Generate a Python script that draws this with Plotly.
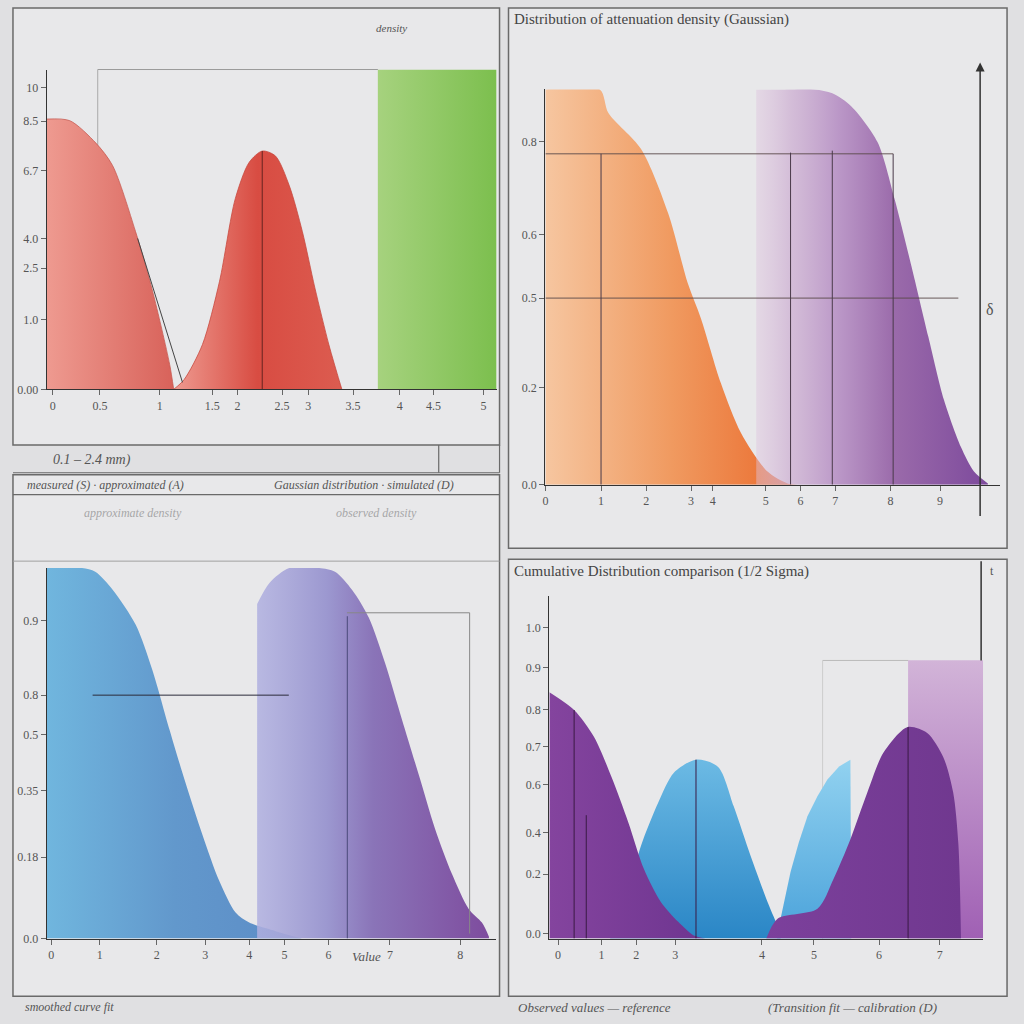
import plotly.graph_objects as go

# ---------------- data ----------------
# Panel 1 (top-left)
p1_red_a_x = [0, 5.1, 10.9, 14.6, 19.7, 23.5, 27.3, 28.2]
p1_red_a_y = [84.5, 84, 77, 70, 49.4, 30.7, 7.8, 0]
p1_red_b_x = [28.2, 30.5, 34.6, 38.4, 41.9, 45, 47.9, 50.8, 53.9, 56.8, 59.6, 62.7, 65, 65.6]
p1_red_b_y = [0, 3, 14, 33.8, 59.6, 71, 74.5, 73, 63.7, 49.4, 31.7, 14, 2.8, 0]
p1_green_x = [73.6, 100]
p1_green_y = [100, 100]
p1_peak_line_x = [47.9, 47.9]
p1_peak_line_y = [0, 74.5]
p1_ytick_vals = [0, 21.7, 37.9, 47.2, 68.3, 83.9, 94.4]
p1_ytick_text = ["0.00", "1.0", "2.5", "4.0", "6.7", "8.5", "10"]
p1_xtick_vals = [1.3, 11.8, 25.1, 36.8, 42.4, 52.3, 58.1, 68.1, 78.5, 86, 97.1]
p1_xtick_text = ["0", "0.5", "1", "1.5", "2", "2.5", "3", "3.5", "4", "4.5", "5"]

# Panel 2 (top-right)
p2_orange_x = [0, 12.5, 14.5, 22, 28.2, 32.8, 35.8, 40.4, 45, 51.1, 55.7, 58]
p2_orange_y = [100, 100, 94, 84.9, 68.8, 50.8, 42, 25.6, 13.1, 3.3, 0.3, 0]
p2_purple_x = [48.5, 55, 62, 66, 70.4, 76.4, 80.3, 84.2, 88.1, 91.7, 95.6, 98.6, 101.8]
p2_purple_y = [100, 100, 100, 99, 95.7, 86.7, 72.4, 55.3, 37.4, 21.4, 9.5, 3.3, 0.3]
p2_hline_y = [83.7, 47.2]
p2_hline_end = [80, 95]
p2_vline_x = [12.8, 56.4, 66, 80]
p2_vline_top = [83.7, 84, 84.5, 83.7]
p2_ytick_vals = [0, 24.6, 47.2, 63.3, 86.7, 100.5]
p2_ytick_text = ["0.0", "0.2", "0.5", "0.6", "0.8", "1.0"]
p2_xtick_vals = [0, 12.8, 23.2, 33.5, 38.5, 50.7, 58.7, 66.7, 79.4, 90.8]
p2_xtick_text = ["0", "1", "2", "3", "4", "5", "6", "7", "8", "9"]

# Panel 3 (bottom-left)
p3_blue_x = [0, 8, 11, 15, 20.2, 24, 27.9, 31.5, 35.4, 39.2, 42.9, 46, 52, 58]
p3_blue_y = [100, 100, 99, 94.1, 84.7, 72.4, 56.3, 42.1, 27.9, 15.5, 7, 4.3, 2, 0]
p3_purple_x = [47.8, 50.6, 55.1, 61.9, 65.5, 69.4, 73.2, 76.9, 80.7, 84.6, 88.2, 92.1, 95.9, 98.9, 100.5]
p3_purple_y = [90.3, 96, 100, 100, 99, 94.1, 86.6, 74.3, 59.2, 44, 29.8, 17.4, 8, 4.3, 0.5]
p3_hline_x = [10.4, 55]
p3_hline_y = [65.7, 65.7]
p3_vline_x = [68.3, 68.3]
p3_vline_y = [0, 87]
p3_ytick_vals = [0, 22, 40, 55, 65.7, 85.8]
p3_ytick_text = ["0.0", "0.18", "0.35", "0.5", "0.8", "0.9"]
p3_xtick_vals = [1, 12, 25, 36, 46, 54, 64, 78, 94]
p3_xtick_text = ["0", "1", "2", "3", "4", "5", "6", "7", "8"]

# Panel 4 (bottom-right)
p4_rect_x = [82.7, 100]
p4_rect_y = [81.2, 81.2]
p4_blue1_x = [14, 18, 21.1, 25.1, 28.7, 33.8, 38.9, 42.5, 46.4, 50.3, 51.7, 53.3]
p4_blue1_y = [0, 13, 27, 39.7, 48.4, 52.2, 50.1, 38.6, 24.1, 10.7, 6.4, 1.4]
p4_blue2_x = [52.5, 55.6, 57.5, 59.5, 61.8, 64.1, 66.8, 69.4, 69.6]
p4_blue2_y = [1, 19.4, 28, 35.7, 41.5, 46.4, 50.2, 52.2, 0]
p4_purple_l_x = [0, 5.7, 10.3, 14.3, 18.2, 21.8, 25.7, 29.7, 33.3, 36]
p4_purple_l_y = [71.9, 66.7, 58.8, 47.2, 33.9, 20.3, 10.7, 4.9, 0.9, 0]
p4_purple_r_x = [50, 52.6, 61.8, 65.5, 69.4, 73.3, 77, 82.5, 87.1, 90.8, 93.1, 94.3, 94.9]
p4_purple_r_y = [0, 5.8, 8.7, 17.4, 29, 42.6, 54.2, 61.7, 60, 53, 42.6, 27.5, 0]
p4_vline_x = [5.7, 8.5, 33.8, 82.7]
p4_vline_top = [66.7, 36, 52.2, 61.7]
p4_ytick_vals = [1.4, 18.8, 31, 44.9, 55.9, 66.7, 79.1, 90.7]
p4_ytick_text = ["0.0", "0.2", "0.4", "0.6", "0.7", "0.8", "0.9", "1.0"]
p4_xtick_vals = [2, 12, 20, 29, 49, 61, 76, 90, 101]
p4_xtick_text = ["0", "1", "2", "3", "4", "5", "6", "7", "8"]

# ---------------- helpers ----------------
def PX(p):
    return p / 1024.0


def PY(p):
    return 1 - p / 1024.0


SERIF = "Liberation Serif"
TXT = "#555555"

fig = go.Figure()


def area(x, y, xa, ya, scale, gtype="horizontal", shape="spline", edge="rgba(0,0,0,0)"):
    fig.add_trace(go.Scatter(
        x=x, y=y, xaxis=xa, yaxis=ya, mode="lines",
        line=dict(color=edge, width=0.8, shape=shape, smoothing=0.8),
        fill="tozeroy",
        fillgradient=dict(type=gtype, colorscale=scale),
        hoverinfo="skip", showlegend=False))


def line(x, y, xa, ya, color="#3a3a3a", width=1.0, dash="solid"):
    fig.add_trace(go.Scatter(
        x=x, y=y, xaxis=xa, yaxis=ya, mode="lines",
        line=dict(color=color, width=width, dash=dash),
        hoverinfo="skip", showlegend=False))


# Panel 1
area(p1_red_a_x, p1_red_a_y, "x", "y", [[0, "#ee9a90"], [1, "#d8625a"]], edge="#c85a52")
area(p1_red_b_x, p1_red_b_y, "x", "y", [[0, "#ee9a90"], [0.5, "#d84c42"], [1, "#dc5c50"]], edge="#c84a40")
area(p1_green_x, p1_green_y, "x", "y", [[0, "#a6d27e"], [1, "#7cbf4e"]], shape="linear")
line(p1_peak_line_x, p1_peak_line_y, "x", "y", color="#7a2a26", width=1.2)

# Panel 2
area(p2_orange_x, p2_orange_y, "x2", "y2", [[0, "#f6c6a0"], [0.5, "#f09a60"], [1, "#ea6a2c"]])
area(p2_purple_x, p2_purple_y, "x2", "y2",
     [[0, "rgba(222,196,222,0.45)"], [0.15, "rgba(205,175,210,0.75)"], [0.35, "rgba(185,148,198,0.95)"],
      [0.6, "#9a6aaa"], [1, "#7d4a9c"]])
for yv, xe in zip(p2_hline_y, p2_hline_end):
    line([0, xe], [yv, yv], "x2", "y2", color="#5a4a4a", width=0.9)
for xv, yt in zip(p2_vline_x, p2_vline_top):
    line([xv, xv], [0, yt], "x2", "y2", color="#4a3a4a", width=1.0)

# Panel 3
area(p3_blue_x, p3_blue_y, "x3", "y3", [[0, "#70b6de"], [0.5, "#6298cc"], [1, "#5c8cc6"]])
area(p3_purple_x, p3_purple_y, "x3", "y3",
     [[0, "rgba(176,176,224,0.85)"], [0.3, "#9c98d0"], [0.5, "#8a74b8"], [1, "#7e4c9e"]])
line(p3_hline_x, p3_hline_y, "x3", "y3", color="#2a2a3a", width=1.0)
line(p3_vline_x, p3_vline_y, "x3", "y3", color="#4a4a7a", width=1.0)

# Panel 4
area(p4_rect_x, p4_rect_y, "x4", "y4", [[0, "#a060b4"], [1, "#d2b4d8"]], gtype="vertical", shape="linear")
area(p4_blue1_x, p4_blue1_y, "x4", "y4", [[0, "#2a86c6"], [1, "#6cbae4"]], gtype="vertical")
area(p4_blue2_x, p4_blue2_y, "x4", "y4", [[0, "#4aa2da"], [1, "#92d2f0"]], gtype="vertical", shape="linear")
area(p4_purple_l_x, p4_purple_l_y, "x4", "y4", [[0, "#84449e"], [1, "#6e3590"]])
area(p4_purple_r_x, p4_purple_r_y, "x4", "y4", [[0, "#7c409c"], [1, "#70388f"]])
for xv, yt in zip(p4_vline_x, p4_vline_top):
    line([xv, xv], [0, yt], "x4", "y4", color="#3a1a44", width=1.0)


def axis(dom, rng, tv=None, tt=None, anchor=None):
    d = dict(domain=dom, range=rng, showgrid=False, zeroline=False,
             showline=True, linecolor="#333333", linewidth=1.3,
             ticks="outside", ticklen=5, tickcolor="#666666",
             tickfont=dict(family=SERIF, size=12, color=TXT),
             fixedrange=True)
    if tv is not None:
        d["tickvals"] = tv
        d["ticktext"] = tt
    if anchor:
        d["anchor"] = anchor
    return d


fig.update_layout(
    width=1024, height=1024,
    margin=dict(l=0, r=0, t=0, b=0),
    paper_bgcolor="#e0e0e2",
    plot_bgcolor="rgba(0,0,0,0)",
    showlegend=False,
    xaxis=axis([PX(44), PX(495)], [0, 100], p1_xtick_vals, p1_xtick_text, "y"),
    yaxis=axis([PY(392), PY(70)], [0, 100], p1_ytick_vals, p1_ytick_text, "x"),
    xaxis2=axis([PX(544), PX(1000)], [0, 104.6], p2_xtick_vals, p2_xtick_text, "y2"),
    yaxis2=axis([PY(488), PY(90)], [0, 100], p2_ytick_vals, p2_ytick_text, "x2"),
    xaxis3=axis([PX(44), PX(494)], [0, 102], p3_xtick_vals, p3_xtick_text, "y3"),
    yaxis3=axis([PY(945), PY(572)], [0, 100], p3_ytick_vals, p3_ytick_text, "x3"),
    xaxis4=axis([PX(548), PX(983)], [0, 100], p4_xtick_vals, p4_xtick_text, "y4"),
    yaxis4=axis([PY(945), PY(600)], [0, 100], p4_ytick_vals, p4_ytick_text, "x4"),
)

# panel frames and decorative lines (paper coordinates)
shapes = []


def rect(x0, y0, x1, y1, color="#6a6a6a", width=1.5, fill="#e8e8ea", layer="below"):
    shapes.append(dict(type="rect", xref="paper", yref="paper",
                       x0=PX(x0), x1=PX(x1), y0=PY(y1), y1=PY(y0),
                       line=dict(color=color, width=width), fillcolor=fill, layer=layer))


def seg(x0, y0, x1, y1, color="#6a6a6a", width=1.2, layer="below"):
    shapes.append(dict(type="line", xref="paper", yref="paper",
                       x0=PX(x0), x1=PX(x1), y0=PY(y0), y1=PY(y1),
                       line=dict(color=color, width=width), layer=layer))


rect(10, 8, 498, 448)
rect(507, 8, 1007, 552)
rect(10, 478, 498, 1003)
rect(507, 563, 1007, 1003)
seg(437, 448, 437, 476)
seg(498, 448, 498, 476)
seg(10, 498, 498, 498)
seg(10, 476, 498, 476)
# light inner frames
seg(95, 70, 376, 70, color="#9a9a9a", width=1)
seg(95, 70, 95, 390, color="#aaaaaa", width=1)
seg(10, 565, 498, 565, color="#a0a0a0", width=1)
seg(345, 617, 468, 617, color="#888888", width=1, layer="above")
seg(468, 617, 468, 940, color="#888888", width=1, layer="above")
seg(822, 665, 908, 665, color="#bbbbbb", width=1)
seg(822, 665, 822, 945, color="#cccccc", width=1)
# right axes
seg(981, 565, 981, 665, color="#333333", width=1.5, layer="above")
shapes.append(dict(type="line", xref="paper", yref="paper",
                   x0=PX(135), x1=PX(180), y0=PY(240), y1=PY(385),
                   line=dict(color="#444444", width=1), layer="above"))
fig.update_layout(shapes=shapes)

ann = []


def text(x, y, s, size=13, color=TXT, anchor="left", opacity=1.0, italic=False):
    ann.append(dict(xref="paper", yref="paper", x=PX(x), y=PY(y), text=s,
                    showarrow=False, xanchor=anchor, yanchor="middle",
                    opacity=opacity,
                    font=dict(family=SERIF, size=size, color=color,
                              style="italic" if italic else "normal")))


text(510, 20, "Distribution of attenuation density (Gaussian)", size=15, color="#444444")
text(510, 575, "Cumulative Distribution comparison (1/2 Sigma)", size=15, color="#444444")
text(390, 28, "density", size=11, anchor="center", italic=True)
text(48, 463, "0.1 – 2.4 mm)", size=14, italic=True)
text(22, 488, "measured (S) · approximated (A)", size=12, italic=True)
text(270, 488, "Gaussian distribution · simulated (D)", size=12, italic=True)
text(130, 517, "approximate density", size=12, anchor="center", opacity=0.45, italic=True)
text(375, 517, "observed density", size=12, anchor="center", opacity=0.45, italic=True)
text(365, 963, "Value", size=13, anchor="center", italic=True)
text(20, 1014, "smoothed curve fit", size=12, italic=True)
text(515, 1014, "Observed values — reference", size=13, italic=True)
text(765, 1014, "(Transition fit — calibration (D)", size=13, italic=True)
text(990, 312, "δ", size=16, anchor="center")
text(992, 575, "t", size=12, anchor="center")
# right arrow axis of panel 2
ann.append(dict(xref="paper", yref="paper", axref="pixel", ayref="pixel",
                x=PX(980), y=PY(63), ax=0, ay=455, text="",
                showarrow=True, arrowhead=2, arrowsize=1.2, arrowwidth=1.5,
                arrowcolor="#333333"))
fig.update_layout(annotations=ann)

fig.write_html("out.html")
